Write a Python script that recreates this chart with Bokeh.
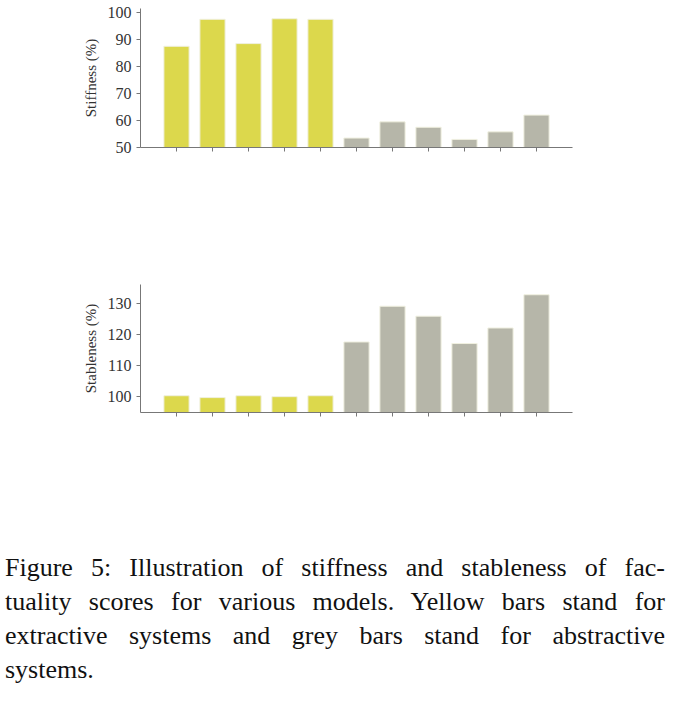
from bokeh.plotting import figure
from bokeh.models import Label, FixedTicker, Div, ColumnDataSource
from bokeh.layouts import column
from bokeh.embed import file_html
from bokeh.resources import INLINE
import math

base_names = ["LSTM", "Trans", "Trans", "BERT", "BERT", "L2L", "L2L", "L2L", "T2T", "BE2T", "BART"]
subs = ["non", "non", "auto", "non", "match", "", "ptr", "ptr", "", "", ""]
sups = ["", "", "", "", "", "", "", "cov", "", "", ""]
groups = ["ext"] * 5 + ["abs"] * 6
stiffness = [87.5, 97.5, 88.5, 97.7, 97.5, 53.5, 59.5, 57.5, 53.0, 55.8, 62.0]
stableness = [100.2, 99.6, 100.2, 99.9, 100.2, 117.5, 129.0, 125.8, 117.0, 122.0, 132.7]
stiff_ticks = [50, 60, 70, 80, 90, 100]
stab_ticks = [100, 110, 120, 130]

YEL = "#dcd84c"
GRY = "#b6b6a9"
FONT = "Liberation Serif"


def make(values, yr, ticks, ylabel, cap, capsup, h, bt, bb, capy):
    p = figure(width=640, height=h, x_range=(-1.0, 11.0), y_range=yr,
               output_backend="svg", toolbar_location=None,
               min_border_left=140, min_border_right=68,
               min_border_top=bt, min_border_bottom=bb)
    p.outline_line_color = None
    p.grid.grid_line_color = None
    idx = list(range(len(values)))
    src = ColumnDataSource(dict(x=idx, top=values,
                                color=[YEL if g == "ext" else GRY for g in groups]))
    p.vbar(x="x", top="top", bottom=yr[0], width=0.7, source=src,
           fill_color="color", line_color="#f0f0e0", line_width=1)
    for ax in (p.xaxis[0], p.yaxis[0]):
        ax.axis_line_color = "#777777"
        ax.major_tick_line_color = "#777777"
        ax.minor_tick_line_color = None
        ax.major_tick_out = 4
        ax.major_tick_in = 0
    p.xaxis.ticker = FixedTicker(ticks=idx)
    p.xaxis.major_label_text_font_size = "0pt"
    p.yaxis.ticker = FixedTicker(ticks=ticks)
    p.yaxis.major_label_text_font = FONT
    p.yaxis.major_label_text_font_size = "16px"
    p.yaxis.major_label_text_color = "#333333"
    p.yaxis.axis_label = ylabel
    p.yaxis.axis_label_text_font = FONT
    p.yaxis.axis_label_text_font_style = "normal"
    p.yaxis.axis_label_text_font_size = "15px"
    p.yaxis.axis_label_text_color = "#333333"
    p.yaxis.axis_label_standoff = 6

    c = math.cos(math.pi / 4)
    ys = -12  # screen y relative to frame bottom
    for i in idx:
        sub = subs[i]
        sup = sups[i]
        w = 6.2 * max(len(sub), len(sup))
        if sub:
            p.add_layout(Label(x=i, x_units="data", y=ys - 4 * c, y_units="screen",
                               x_offset=8 + 4 * c, text=sub, angle=math.pi / 4,
                               text_align="right", text_baseline="middle",
                               text_font=FONT, text_font_style="italic",
                               text_font_size="11px", text_color="#222222"))
        if sup:
            p.add_layout(Label(x=i, x_units="data", y=ys + 7 * c, y_units="screen",
                               x_offset=8 - 7 * c, text=sup, angle=math.pi / 4,
                               text_align="right", text_baseline="middle",
                               text_font=FONT, text_font_style="italic",
                               text_font_size="11px", text_color="#222222"))
        p.add_layout(Label(x=i, x_units="data", y=ys - w * c, y_units="screen",
                           x_offset=8 - w * c, text=base_names[i], angle=math.pi / 4,
                           text_align="right", text_baseline="middle",
                           text_font=FONT, text_font_size="16px", text_color="#222222"))
    # caption
    p.add_layout(Label(x=247, x_units="screen", y=capy, y_units="screen", text=cap,
                       text_align="right", text_baseline="bottom",
                       text_font=FONT, text_font_size="23px", text_color="#111111"))
    p.add_layout(Label(x=247, x_units="screen", y=capy + 10, y_units="screen", text=capsup,
                       text_align="left", text_baseline="bottom",
                       text_font=FONT, text_font_style="italic",
                       text_font_size="15px", text_color="#111111"))
    p.add_layout(Label(x=259, x_units="screen", y=capy, y_units="screen", text=")",
                       text_align="left", text_baseline="bottom",
                       text_font=FONT, text_font_size="23px", text_color="#111111"))
    return p


p1 = make(stiffness, (50, 101.5), stiff_ticks, "Stiffness (%)",
          "(a) stiffness (r", "μ", 258, 8, 111, -103)
p2 = make(stableness, (94.8, 136), stab_ticks, "Stableness (%)",
          "(b) stableness (r", "σ", 274, 26, 120, -107)

line_style = "text-align:justify;text-align-last:justify;"
div = Div(text=("<div style=\"font-family:'Liberation Serif';font-size:26px;"
                "line-height:34px;color:#111;width:660px;margin-top:14px\">"
                f"<div style='{line_style}'>Figure 5: Illustration of stiffness and stableness of fac-</div>"
                f"<div style='{line_style}'>tuality scores for various models. Yellow bars stand for</div>"
                f"<div style='{line_style}'>extractive systems and grey bars stand for abstractive</div>"
                "<div>systems.</div></div>"),
          width=665)

layout = column(p1, p2, div, spacing=0)
open("out.html", "w").write(file_html(layout, INLINE))
